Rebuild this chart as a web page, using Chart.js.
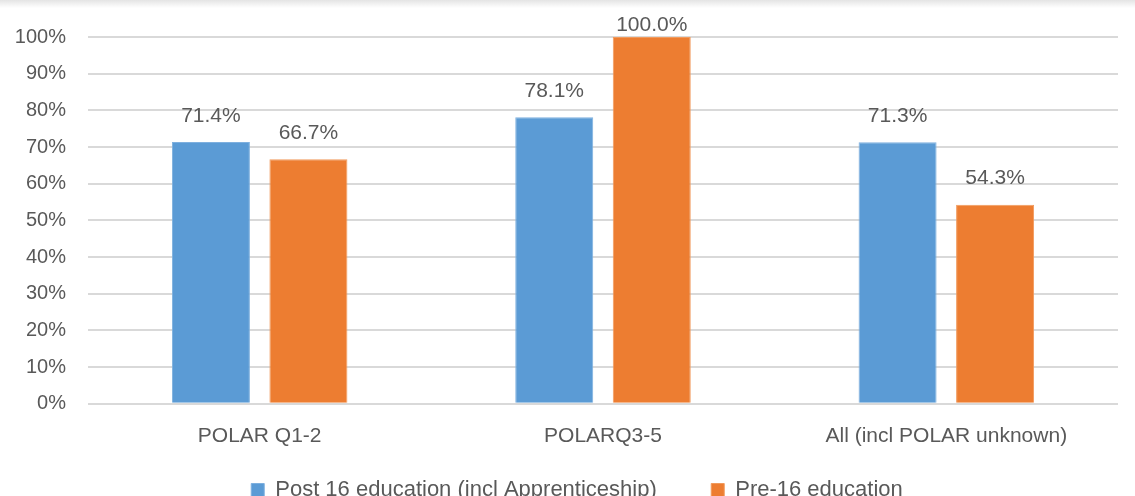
<!DOCTYPE html>
<html>
<head>
<meta charset="utf-8">
<script src="https://cdn.jsdelivr.net/npm/chart.js@4/dist/chart.umd.min.js"></script>
<style>
  html, body { margin: 0; padding: 0; background: #fff; overflow: hidden; }
  #wrap { position: relative; width: 1135px; height: 496px; overflow: hidden; }
  #shade { position: absolute; left: 0; top: 0; width: 1135px; height: 8px;
           background: linear-gradient(to bottom, #e4e4e4, #ffffff); }
  canvas { position: absolute; left: 0; top: 0; }
</style>
</head>
<body>
<div id="wrap">
  <div id="shade"></div>
  <canvas id="polarChart" width="1135" height="511"></canvas>
</div>
<script>
// 카테고리와 시리즈 값 (%)
const categories = ['POLAR Q1-2', 'POLARQ3-5', 'All (incl POLAR unknown)'];
const post16Values = [71.4, 78.1, 71.3];
const pre16Values = [66.7, 100.0, 54.3];
const yTicks = [0, 10, 20, 30, 40, 50, 60, 70, 80, 90, 100];

const textColor = '#595959';
const fontFamily = '"Liberation Sans", Arial, sans-serif';

// 막대 위에 값 표시
const valueLabels = {
    id: 'valueLabels',
    afterDatasetsDraw(chart) {
        const ctx = chart.ctx;
        const top = chart.chartArea.top;
        ctx.save();
        ctx.font = '21px ' + fontFamily;
        ctx.fillStyle = textColor;
        ctx.textAlign = 'center';
        ctx.textBaseline = 'middle';
        chart.data.datasets.forEach((ds, i) => {
            chart.getDatasetMeta(i).data.forEach((bar, j) => {
                const y = Math.max(bar.y - 26, top - 12);
                ctx.fillText(ds.data[j].toFixed(1) + '%', bar.x, y);
            });
        });
        ctx.restore();
    }
};

// 범례를 플롯 영역 가운데 쪽으로 이동 (그릴 때만)
const LEGEND_DX = 18;
const legendShift = {
    id: 'legendShift',
    beforeDraw(chart) {
        const lg = chart.legend;
        if (!lg) return;
        lg.left += LEGEND_DX;
        lg.right += LEGEND_DX;
        lg.legendHitBoxes.forEach(b => { b.left += LEGEND_DX; });
    },
    afterDraw(chart) {
        const lg = chart.legend;
        if (!lg) return;
        lg.left -= LEGEND_DX;
        lg.right -= LEGEND_DX;
        lg.legendHitBoxes.forEach(b => { b.left -= LEGEND_DX; });
    }
};

const ctx = document.getElementById('polarChart').getContext('2d');
const polarChart = new Chart(ctx, {
    type: 'bar',
    data: {
        labels: categories,
        datasets: [
            {
                label: 'Post 16 education (incl Apprenticeship)',
                data: post16Values,
                backgroundColor: '#5b9bd5',
                borderColor: '#7eb0df',
                borderWidth: 1
            },
            {
                label: 'Pre-16 education',
                data: pre16Values,
                backgroundColor: '#ed7d31',
                borderColor: '#f19a5c',
                borderWidth: 1
            }
        ]
    },
    options: {
        responsive: false,
        animation: false,
        categoryPercentage: 0.568,
        barPercentage: 0.8,
        layout: {
            padding: { top: 37, right: 17, left: 0, bottom: 0 }
        },
        plugins: {
            legend: {
                position: 'bottom',
                labels: {
                    boxWidth: 13,
                    boxHeight: 13,
                    padding: 30,
                    color: textColor,
                    font: { family: fontFamily, size: 22 },
                    // 범례 항목 사이 간격을 넓힘
                    generateLabels(chart) {
                        const items = Chart.defaults.plugins.legend.labels.generateLabels(chart);
                        items.forEach((it, i) => {
                            if (i < items.length - 1) it.text += '    ';
                        });
                        return items;
                    }
                }
            },
            tooltip: { enabled: false }
        },
        scales: {
            x: {
                grid: { display: false },
                border: { display: false },
                afterFit(axis) { axis.height -= 12; },
                ticks: {
                    color: textColor,
                    padding: 12,
                    font: { family: fontFamily, size: 21 }
                }
            },
            y: {
                min: 0,
                max: 100,
                afterBuildTicks(axis) {
                    axis.ticks = yTicks.map(v => ({ value: v }));
                },
                afterFit(axis) { axis.width = 88; },
                grid: { color: '#d9d9d9', lineWidth: 2, drawTicks: false },
                border: { display: false },
                ticks: {
                    color: textColor,
                    padding: 22,
                    font: { family: fontFamily, size: 20 },
                    callback: v => v + '%'
                }
            }
        }
    },
    plugins: [valueLabels, legendShift]
});
</script>
</body>
</html>
